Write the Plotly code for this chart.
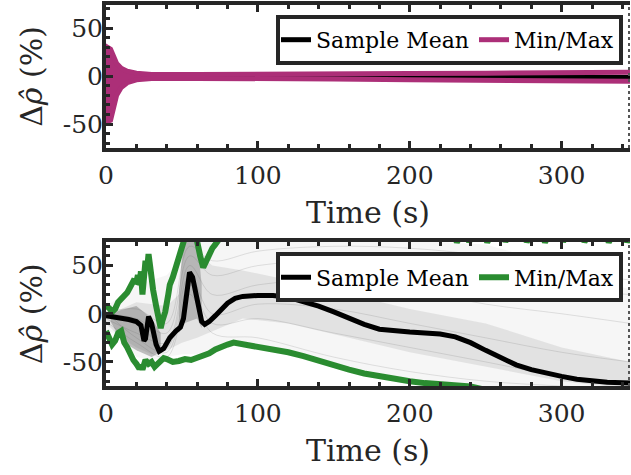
import plotly.graph_objects as go

# ---------------- top panel: estimator error (converging case) ----------------
top_mean_t = [0, 2, 5, 10, 20, 50, 100, 130, 200, 250, 300, 345]
top_mean_v = [0, 1, 0, -1, -0.5, 0, 0.3, 0.5, 0, -0.5, -1, -1.5]

top_max_t = [0, 1, 3, 5, 7, 10, 14, 20, 30, 60, 100, 150, 200, 250, 300, 345]
top_max_v = [25, 30, 28, 20, 13, 8, 5, 3, 1.5, 1.5, 1.5, 2, 2.5, 3, 3.5, 4]
top_min_v = [-40, -47, -46, -32, -20, -12, -7, -4, -2.5, -2.5, -2.5, -3, -4, -4.5, -5, -5.5]

# early spread where the min/max traces oscillate across each other
top_env_t = [0, 1, 3, 5, 7, 10, 14, 20, 30]
top_env_hi = [25, 30, 28, 20, 13, 8, 5, 3, 1.5]
top_env_lo = [-40, -47, -46, -32, -20, -12, -7, -4, -2.5]

# ---------------- bottom panel: estimator error (diverging case) ----------------
bot_mean_t = [0, 5, 10, 15, 20, 23, 25, 26, 28, 30, 33, 35, 38, 42, 46, 49, 51, 53,
              55, 57, 59, 61, 63, 65, 68, 72, 76, 80, 85, 90, 100, 110, 120, 130,
              140, 150, 160, 170, 180, 190, 200, 210, 220, 230, 240, 250, 260, 270,
              280, 290, 300, 310, 320, 330, 345]
bot_mean_v = [-2, -3, -5, -6, -8, -12, -28, -26, -3, -10, -32, -39, -36, -25, -18, -14,
              -5, 20, 43, 38, 23, 5, -8, -11, -8, -2, 5, 11, 16, 18, 19, 19, 17, 13,
              8, 2, -5, -11, -16, -18, -19, -20, -21, -24, -30, -38, -46, -53, -58,
              -62, -65, -68, -70, -71, -72]

bot_max_t = [0, 2, 4, 6, 8, 10, 12, 14, 16, 18, 20, 21, 22, 23, 24, 25, 26, 27, 28,
             29, 30, 31, 33, 35, 36, 37, 39, 41, 42, 44, 46, 48, 50, 52, 55, 58, 60,
             62, 64, 66, 68, 70, 72, 75, 80, 100, 150, 200, 225, 230, 231, 233, 238,
             239, 241, 250, 251, 253, 262, 263, 265, 276, 277, 279, 288, 289, 291,
             300, 301, 303, 314, 315, 317, 330, 331, 333, 342, 343, 345]
bot_max_v = [8, 6, 2, 5, 12, 15, 20, 22, 28, 34, 33, 40, 30, 44, 20, 35, 55, 45, 62,
             50, 35, 25, 8, -5, -15, -8, 2, 20, 30, 38, 48, 58, 70, 85, 95, 90, 72,
             60, 48, 55, 62, 68, 72, 80, 90, 95, 95, 90, 82, 80, 74, 80, 80,
             74.5, 80, 80, 74, 80, 80, 75, 80, 80, 74.5, 80, 80, 74, 80,
             80, 75, 80, 80, 74.5, 80, 80, 74, 80, 80, 74.5, 80]

bot_min_t = [0, 2, 4, 6, 8, 10, 12, 14, 16, 18, 20, 22, 23, 24, 26, 28, 30, 32, 34,
             36, 38, 40, 44, 48, 52, 56, 60, 64, 68, 72, 76, 80, 84, 88, 95, 100,
             110, 120, 130, 140, 150, 160, 170, 180, 190, 200, 210, 220, 230, 240,
             250, 260]
bot_min_v = [-18, -25, -32, -28, -20, -18, -30, -35, -42, -48, -52, -57, -53, -58,
             -48, -52, -50, -55, -52, -48, -46, -47, -50, -49, -47, -48, -46, -43,
             -41, -37, -34, -32, -30, -31, -33, -34, -37, -40, -44, -49, -54, -58,
             -62, -65, -68, -70, -72, -73, -74, -75.5, -79, -85]

# spread of the individual sample runs (outer, dense and core regions)
cloud_outer_t = [0, 10, 20, 30, 40, 48, 52, 150, 250, 300, 345]
cloud_outer_hi = [8, 18, 30, 35, 40, 55, 80, 80, 72, 50, 25]
cloud_outer_lo_t = [0, 10, 20, 30, 40, 50, 60, 80, 100, 150, 200, 240, 345]
cloud_outer_lo = [-18, -22, -45, -48, -45, -42, -42, -30, -32, -52, -68, -78, -78]

cloud_dense_t = [0, 10, 20, 30, 40, 48, 52, 58, 62, 70, 90, 120, 160, 200, 250, 300, 345]
cloud_dense_hi = [3, 5, 12, 10, 8, 20, 80, 80, 60, 50, 45, 35, 20, 5, -10, -35, -50]
cloud_dense_lo_t = [0, 10, 20, 30, 40, 50, 60, 70, 90, 120, 160, 200, 250, 300, 345]
cloud_dense_lo = [-10, -25, -35, -42, -38, -30, -25, -18, -5, -10, -25, -40, -55, -70, -78]

cloud_core_t = [3, 10, 20, 30, 36]
cloud_core_hi = [0, 4, 8, -5, -20]
cloud_core_lo = [-8, -28, -38, -45, -40]

cloud_spike_t = [48, 51, 60, 63]
cloud_spike_hi = [20, 80, 80, 30]
cloud_spike_lo = [-20, -10, -5, -15]

# a few individual sample runs drawn over the spread
run_t = [0, 20, 40, 55, 70, 100, 150, 200, 250, 300, 345]
run_1 = [0, -5, -20, 60, 40, 50, 55, 45, 35, 25, 20]
run_2 = [-5, -20, -30, 50, 20, 30, 35, 25, 10, 0, -10]
run_3 = [-3, -10, -35, 40, 0, 10, 5, -10, -25, -40, -50]
run_4 = [2, -25, -40, 30, -10, -5, -20, -35, -50, -65, -72]
run_5 = [-8, -30, -45, 20, -20, -25, -45, -60, -70, -75, -78]
run_6 = [1, 5, -10, 70, 55, 65, 70, 68, 60, 45, 35]

x_ticks = [0, 100, 200, 300]
y_ticks = [-50, 0, 50]
y_ticktext = ["-50", "0", "50"]

PINK = "#AC2F78"
GREEN = "#2A8C30"
AXC = "#262626"
FONT = "DejaVu Serif"

W, H = 631, 475
ML, MR, MT, MB = 106, 1, 1, 89
PH = H - MT - MB
PW = W - ML - MR


def ydom(top_px, bot_px):
    return [(H - MB - bot_px) / PH, (H - MB - top_px) / PH]


def closed(t_hi, v_hi, t_lo, v_lo):
    return list(t_hi) + list(reversed(t_lo)), list(v_hi) + list(reversed(v_lo))


fig = go.Figure()

# top panel traces
fig.add_trace(go.Scatter(x=top_mean_t, y=top_mean_v, mode="lines", name="Sample Mean",
                         line=dict(color="black", width=5), xaxis="x", yaxis="y",
                         legend="legend", legendrank=1))
ex, ey = closed(top_env_t, top_env_hi, top_env_t, top_env_lo)
fig.add_trace(go.Scatter(x=ex, y=ey, mode="lines", fill="toself", fillcolor=PINK,
                         line=dict(color=PINK, width=1), showlegend=False,
                         hoverinfo="skip", xaxis="x", yaxis="y"))
fig.add_trace(go.Scatter(x=top_max_t, y=top_max_v, mode="lines", name="Min/Max",
                         line=dict(color=PINK, width=5), legendgroup="mm1",
                         xaxis="x", yaxis="y", legend="legend", legendrank=2))
fig.add_trace(go.Scatter(x=top_max_t, y=top_min_v, mode="lines", name="Min/Max",
                         line=dict(color=PINK, width=5), legendgroup="mm1",
                         showlegend=False, xaxis="x", yaxis="y"))

# bottom panel traces: sample spread
for th, vh, tl, vl, col in [
    (cloud_outer_t, cloud_outer_hi, cloud_outer_lo_t, cloud_outer_lo, "rgba(150,150,150,0.09)"),
    (cloud_dense_t, cloud_dense_hi, cloud_dense_lo_t, cloud_dense_lo, "rgba(130,130,130,0.17)"),
    (cloud_core_t, cloud_core_hi, cloud_core_t, cloud_core_lo, "rgba(110,110,110,0.42)"),
    (cloud_spike_t, cloud_spike_hi, cloud_spike_t, cloud_spike_lo, "rgba(110,110,110,0.38)"),
]:
    cx, cy = closed(th, vh, tl, vl)
    fig.add_trace(go.Scatter(x=cx, y=cy, mode="lines", fill="toself", fillcolor=col,
                             line=dict(width=0), showlegend=False, hoverinfo="skip",
                             xaxis="x2", yaxis="y2"))

for run in [run_1, run_2, run_3, run_4, run_5, run_6]:
    fig.add_trace(go.Scatter(x=run_t, y=run, mode="lines", line_shape="spline",
                             line=dict(color="rgba(90,90,90,0.16)", width=1),
                             showlegend=False, hoverinfo="skip", xaxis="x2", yaxis="y2"))

fig.add_trace(go.Scatter(x=bot_max_t, y=bot_max_v, mode="lines", name="Min/Max",
                         line=dict(color=GREEN, width=6), legendgroup="mm2",
                         xaxis="x2", yaxis="y2", legend="legend2", legendrank=2))
fig.add_trace(go.Scatter(x=bot_min_t, y=bot_min_v, mode="lines", name="Min/Max",
                         line=dict(color=GREEN, width=6), legendgroup="mm2",
                         showlegend=False, xaxis="x2", yaxis="y2"))
fig.add_trace(go.Scatter(x=bot_mean_t, y=bot_mean_v, mode="lines", name="Sample Mean",
                         line=dict(color="black", width=5), xaxis="x2", yaxis="y2",
                         legend="legend2", legendrank=1))

tickfont = dict(family=FONT, size=25, color=AXC)
titlefont = dict(family=FONT, size=30, color=AXC)


def xax(anchor):
    return dict(domain=[0, 1], anchor=anchor, range=[0, 345], tickvals=x_ticks,
                showline=True, linewidth=4, linecolor=AXC, mirror="ticks",
                ticks="inside", ticklen=7, tickwidth=3, tickcolor=AXC,
                minor=dict(dtick=20, tick0=0, ticks="inside", ticklen=4, tickwidth=3,
                           tickcolor=AXC, showgrid=False),
                showgrid=False, zeroline=False, tickfont=tickfont,
                ticklabelstandoff=2,
                title=dict(text="Time (s)", font=titlefont, standoff=14))


def yax(anchor, dom, rng):
    return dict(domain=dom, anchor=anchor, range=rng, tickvals=y_ticks,
                ticktext=y_ticktext, showline=True, linewidth=4, linecolor=AXC,
                mirror=False, ticks="inside", ticklen=7, tickwidth=3, tickcolor=AXC,
                minor=dict(dtick=10, tick0=0, ticks="inside", ticklen=4, tickwidth=3,
                           tickcolor=AXC, showgrid=False),
                showgrid=False, zeroline=False, tickfont=tickfont,
                ticklabelstandoff=-6,
                title=dict(text="Δ<i>ρ̂</i> (%)", font=titlefont, standoff=12))


legend_common = dict(orientation="h", xanchor="right", yanchor="top",
                     bgcolor="white", bordercolor=AXC, borderwidth=4,
                     font=dict(family=FONT, size=22, color="black"),
                     itemwidth=30, tracegroupgap=0)

fig.update_layout(
    width=W, height=H,
    margin=dict(l=ML, r=MR, t=MT, b=MB),
    paper_bgcolor="white", plot_bgcolor="white",
    xaxis=xax("y"), yaxis=yax("x", ydom(1, 145.5), [-75, 74]),
    xaxis2=xax("y2"), yaxis2=yax("x2", ydom(240, 386), [-75, 75]),
    legend=dict(legend_common, x=(623 - ML) / PW, y=(H - MB - 11) / PH),
    legend2=dict(legend_common, x=(623 - ML) / PW, y=(H - MB - 251) / PH),
    showlegend=True,
)

# right-hand frame edge of both panels
for y0, y1 in [ydom(1, 145.5), ydom(240, 386)]:
    fig.add_shape(type="line", xref="paper", yref="paper",
                  x0=(629 - ML) / PW, x1=(629 - ML) / PW,
                  y0=y0, y1=y1, line=dict(color="#555555", width=2, dash="dot"))

fig.write_html("out.html")
